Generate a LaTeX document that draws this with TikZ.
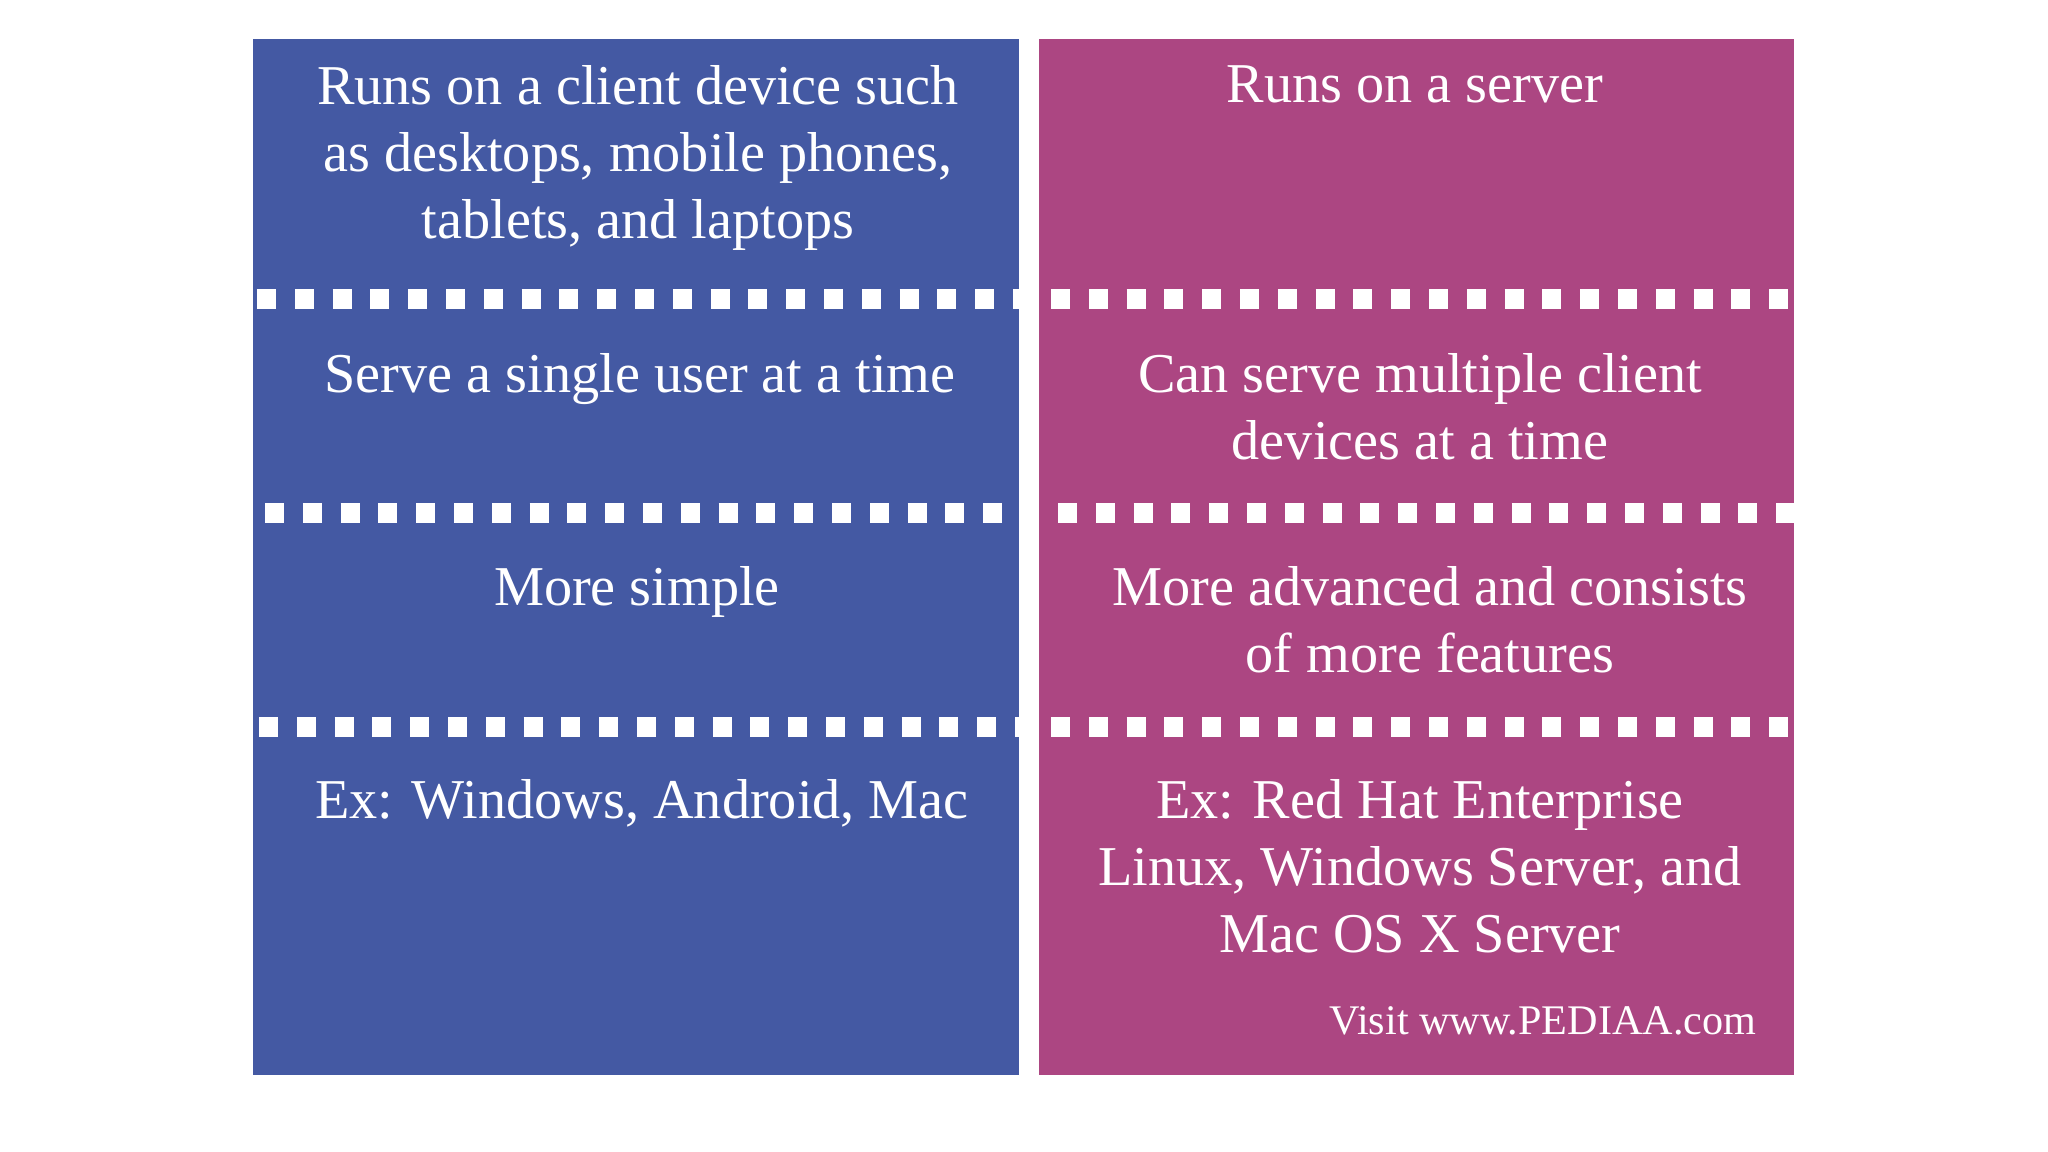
\documentclass[tikz,border=0pt]{standalone}
\usepackage{fontspec}
\setmainfont{Liberation Serif}
\usetikzlibrary{positioning}
\definecolor{clientblue}{RGB}{68,89,163}
\definecolor{servermag}{RGB}{172,70,130}
\tikzstyle{txt} = [text=white, align=center, inner sep=0pt, anchor=north,
    font=\fontsize{16pt}{19pt}\selectfont]
\tikzstyle{sep} = [draw=white, line width=0.2cm, dash pattern=on 0.19cm off 0.188cm]

\begin{document}
\begin{tikzpicture}
  \useasboundingbox (0,0) rectangle (20.48,-11.52);

  % the two columns
  \fill[clientblue] (2.53,-0.39) rectangle (10.19,-10.75);
  \fill[servermag]  (10.39,-0.39) rectangle (17.94,-10.75);

  % dotted separators
  \coordinate (ca1) at (2.57,-2.99);  \coordinate (cb1) at (10.19,-2.99);
  \coordinate (ca2) at (2.65,-5.13);  \coordinate (cb2) at (10.04,-5.13);
  \coordinate (ca3) at (2.59,-7.27);  \coordinate (cb3) at (10.19,-7.27);
  \coordinate (sa1) at (10.51,-2.99); \coordinate (sb1) at (17.88,-2.99);
  \coordinate (sa2) at (10.58,-5.13); \coordinate (sb2) at (17.94,-5.13);
  \coordinate (sa3) at (10.51,-7.27); \coordinate (sb3) at (17.88,-7.27);
  \foreach \i in {1,2,3}
    \draw[sep] (ca\i) -- (cb\i)
               (sa\i) -- (sb\i);

  % client column
  \node[txt] (c1) at (6.38,-0.65) {Runs on a client device such\\as desktops, mobile phones,\\tablets, and laptops};
  \node[txt] (c2) at (6.40,-3.53) {Serve a single user at a time};
  \node[txt] (c3) at (6.37,-5.66) {More simple};
  \node[txt] (c4) at (6.42,-7.79) {Ex: Windows, Android, Mac};

  % server column
  \node[txt] (s1) at (14.15,-0.65) {Runs on a server};
  \node[txt] (s2) at (14.20,-3.53) {Can serve multiple client\\devices at a time};
  \node[txt] (s3) at (14.30,-5.66) {More advanced and consists\\of more features};
  \node[txt] (s4) at (14.20,-7.79) {Ex: Red Hat Enterprise\\Linux, Windows Server, and\\Mac OS X Server};

  \node[text=white, anchor=base east, inner sep=0pt, font=\fontsize{12pt}{14pt}\selectfont]
    (visit) at (17.57,-10.34) {Visit www.PEDIAA.com};
\end{tikzpicture}
\end{document}
